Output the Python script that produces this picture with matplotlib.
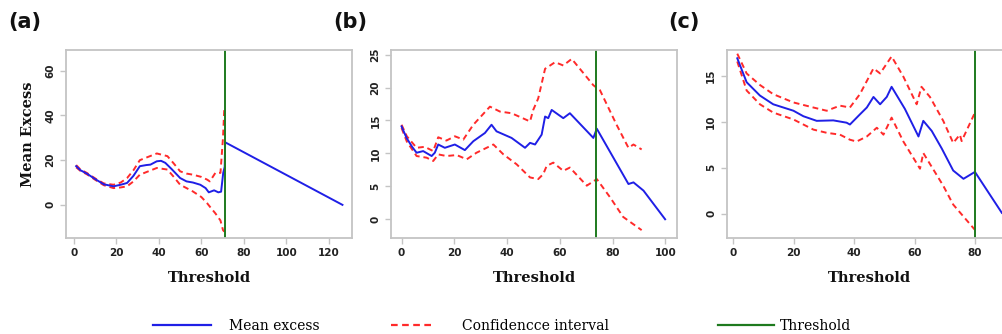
import matplotlib.pyplot as plt
from matplotlib.lines import Line2D

# ---- panel (a) ----
a_me_x = [1, 3, 6, 10, 14, 18.6, 22, 25, 28, 31, 34, 36, 39, 41, 43, 46, 50, 53, 56, 59.5, 62, 63.5, 66, 68, 69.3, 70.3, 71, 71.2, 126.5]
a_me = [17.3, 15.5, 14, 11.5, 9.2, 8.3, 9, 9.8, 13, 17.3, 17.8, 18, 19.5, 19.7, 18.8, 16, 12, 10.5, 10, 9, 7.5, 5.6, 6.5, 5.6, 5.9, 14.3, 17, 28, 0]
a_up_x = [1, 3, 6, 10, 14, 18.6, 22, 25, 28, 31, 35, 39, 44, 47, 50, 53, 56, 60, 62.7, 64, 66.6, 69, 70.2, 70.8]
a_up = [17.8, 15.8, 14.3, 11.8, 9.6, 9, 10, 12, 15.5, 20, 21.5, 23, 21.8, 18.5, 15, 14, 13.5, 12.5, 11.3, 10.5, 14.3, 14.3, 30, 42.8]
a_lo_x = [1, 3, 6, 10, 14, 18.6, 22, 25, 28, 31, 35, 39, 44, 47, 50, 53, 56, 60, 62.7, 64, 66.6, 69, 70.2, 70.8]
a_lo = [16.8, 15.2, 13.7, 11.2, 8.8, 7.5, 7.8, 8.3, 10.5, 13.5, 15, 16.5, 15.8, 12.5, 9, 7.5, 6, 3.5, 0.75, -0.8, -3.8, -7, -11.3, -12]
a_thr = 71

# ---- panel (b) ----
b_me_x = [0, 1.9, 4, 5.7, 8.2, 11.4, 12.6, 13.9, 16.4, 20.2, 24, 27.2, 31.6, 34.1, 36, 41.7, 46.8, 48.7, 50.6, 53.1, 54.4, 55.6, 56.9, 61.3, 63.8, 72.7, 74, 86, 87.9, 91.7, 99.9]
b_me = [14.1, 12.35, 11, 10.1, 10.35, 9.6, 10.1, 11.35, 10.85, 11.35, 10.5, 11.85, 13.1, 14.35, 13.35, 12.35, 10.85, 11.6, 11.35, 12.85, 15.6, 15.35, 16.6, 15.35, 16.1, 12.35, 13.75, 5.35, 5.6, 4.35, 0]
b_up_x = [0, 2, 5.7, 8.8, 12, 13.9, 17, 20.2, 23.4, 27.2, 33.5, 37.3, 41.7, 48.7, 49.9, 51.8, 54.4, 58.2, 61.3, 64.5, 72.7, 75.2, 81.5, 86, 87.9, 91]
b_up = [14.35, 12.6, 10.85, 11, 10.35, 12.45, 11.95, 12.6, 12.1, 14.35, 17.1, 16.35, 16.1, 14.85, 16.6, 18.35, 22.85, 23.85, 23.35, 24.35, 20.35, 19.6, 14.35, 10.85, 11.35, 10.6]
b_lo_x = [0, 2, 5.7, 9.5, 12, 13.9, 17, 20.9, 24.7, 28.4, 34.8, 38.6, 43.6, 48.7, 51.8, 53.7, 55, 57.5, 61.3, 63.8, 70.2, 74, 79, 84, 91]
b_lo = [13.85, 11.8, 9.6, 9.35, 8.85, 9.85, 9.6, 9.75, 9.1, 10.1, 11.35, 9.85, 8.35, 6.35, 6.1, 6.85, 8.1, 8.6, 7.35, 7.85, 5.1, 6.1, 3.35, 0.35, -1.65]
b_thr = 73.7

# ---- panel (c) ----
c_me_x = [1.3, 4.4, 8.8, 13.2, 19.9, 23.2, 27.6, 33.1, 37.5, 38.6, 41.9, 44.2, 46.4, 48.6, 50.8, 52.4, 56.8, 61.3, 62.9, 65.7, 69, 72.8, 76.2, 80, 88.9]
c_me = [16.9, 14.3, 12.85, 11.9, 11.2, 10.6, 10.1, 10.15, 9.9, 9.7, 10.8, 11.55, 12.7, 11.9, 12.7, 13.8, 11.4, 8.4, 10.1, 9, 7.1, 4.7, 3.8, 4.55, 0.1]
c_up_x = [1.3, 4.4, 8.8, 13.2, 19.9, 26.5, 30.9, 35.3, 38.6, 41.9, 46.4, 48.6, 52.4, 56.3, 60.7, 62.3, 65.1, 69.5, 72.8, 75, 75.6, 80]
c_up = [17.4, 15.25, 14, 13, 12.1, 11.55, 11.2, 11.75, 11.55, 13, 15.8, 15.25, 17.1, 14.9, 11.9, 13.8, 12.7, 10.1, 7.7, 8.6, 7.9, 11]
c_lo_x = [1.3, 4.4, 8.8, 13.2, 19.9, 26.5, 30.9, 35.3, 38.6, 40.8, 44.2, 47.5, 49.7, 52.4, 56.3, 61.8, 62.9, 69.5, 72.8, 80]
c_lo = [16.55, 13.4, 11.9, 11, 10.25, 9.15, 8.8, 8.6, 8.05, 7.85, 8.4, 9.35, 8.6, 10.45, 7.85, 4.9, 6.6, 3.05, 1, -1.75]
c_thr = 80

panels = [
    ("(a)", a_me_x, a_me, a_up_x, a_up, a_lo_x, a_lo, a_thr, (-3.8, 131), (-14.7, 69.3), [0, 20, 40, 60, 80, 100, 120], [0, 20, 40, 60]),
    ("(b)", b_me_x, b_me, b_up_x, b_up, b_lo_x, b_lo, b_thr, (-4, 104.4), (-2.8, 25.7), [0, 20, 40, 60, 80, 100], [0, 5, 10, 15, 20, 25]),
    ("(c)", c_me_x, c_me, c_up_x, c_up, c_lo_x, c_lo, c_thr, (-2.2, 92.5), (-2.6, 17.8), [0, 20, 40, 60, 80], [0, 5, 10, 15]),
]
lefts = [66, 391, 726.7]

W, H = 1002, 334
fig = plt.figure(figsize=(W / 100, H / 100), dpi=100)

blue = "#1f1fe6"
red = "#ff2a2a"
green = "#1e7a1e"
dash = (0, (3, 2))

for (lab, mx, my, ux, uy, lx, ly, thr, xl, yl, xt, yt), l in zip(panels, lefts):
    ax = fig.add_axes([l / W, 1 - 237.7 / H, 286 / W, 187.7 / H])
    ax.plot(ux, uy, color=red, lw=1.4, ls=dash)
    ax.plot(lx, ly, color=red, lw=1.4, ls=dash)
    ax.plot(mx, my, color=blue, lw=1.4)
    ax.axvline(thr, color=green, lw=1.4)
    ax.set_xlim(*xl)
    ax.set_ylim(*yl)
    ax.set_xticks(xt)
    ax.set_yticks(yt)
    for s in ax.spines.values():
        s.set_color("#c4c4c4")
        s.set_linewidth(1.3)
    ax.tick_params(colors="#c4c4c4", labelcolor="#222222", labelsize=7.5, length=4, width=1)
    ax.tick_params(axis="y", labelrotation=90)
    for t in ax.get_xticklabels() + ax.get_yticklabels():
        t.set_fontweight("bold")
    for t in ax.get_yticklabels():
        t.set_va("center")
    ax.text(0.5, -0.215, "Threshold", transform=ax.transAxes, ha="center", va="center",
            family="DejaVu Serif", fontweight="bold", fontsize=10.5, color="#111111")
    fig.text((l - 58) / W, 1 - 22 / H, lab, ha="left", va="center", fontsize=15,
             fontweight="bold", color="#111111")

fig.text(28 / W, 1 - 134 / H, "Mean Excess", rotation=90, ha="center", va="center",
         family="DejaVu Serif", fontweight="bold", fontsize=10.5, color="#111111")

# legend
entries = [
    (Line2D([], [], color=blue, lw=1.6), "Mean excess", 146, 4.2, 1.3),
    (Line2D([], [], color=red, lw=1.6, ls=dash), "Confidencce interval", 384, 3.0, 2.1),
    (Line2D([], [], color=green, lw=1.6), "Threshold", 711, 4.0, 0.45),
]
for h, txt, x0, L, pad in entries:
    fig.legend([h], [txt], loc="center left", bbox_to_anchor=(x0 / W, 1 - 326 / H),
               frameon=False, handlelength=L, handletextpad=pad, borderpad=0,
               prop={"family": "DejaVu Serif", "size": 10})

fig.savefig("out.png", dpi=100)
